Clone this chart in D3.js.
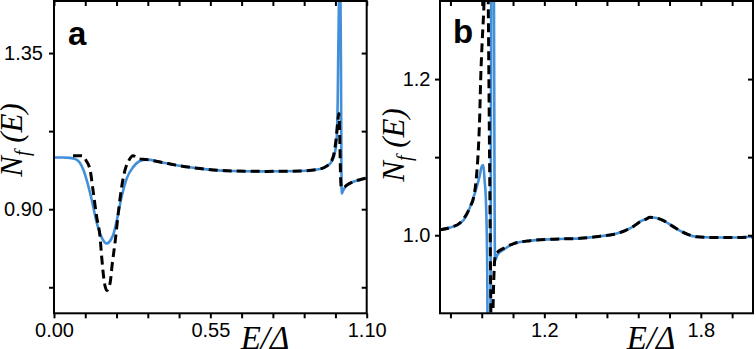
<!DOCTYPE html>
<html><head><meta charset="utf-8">
<script src="https://cdn.jsdelivr.net/npm/d3@7/dist/d3.min.js"></script>
<style>body{margin:0;background:#fff}svg{display:block}</style>
</head><body>
<svg id="c" width="756" height="349"></svg>
<script>
// ---------- DATA ----------
// Panel a
const aBlueE = [0.000,0.030,0.056,0.074,0.091,0.104,0.115,0.133,0.150,0.168,0.185,0.200,0.209,0.221,0.238,0.256,0.279,0.302,0.326,0.373,0.443,0.514,0.630,0.748,0.865,0.936,0.959,0.977,0.988,0.994,0.998,1.000,1.0025,1.005,1.0095,1.012,1.018,1.0295,1.053,1.076,1.100];
const aBlueN = [1.049,1.049,1.048,1.045,1.034,1.012,0.984,0.926,0.862,0.818,0.801,0.812,0.828,0.868,0.936,0.989,1.022,1.039,1.043,1.036,1.025,1.017,1.010,1.009,1.010,1.016,1.024,1.038,1.062,1.099,1.214,1.359,1.503,1.750,1.300,0.945,0.955,0.969,0.979,0.985,0.990];
const aDashE = [0.067,0.098,0.113,0.127,0.138,0.150,0.162,0.168,0.177,0.186,0.197,0.205,0.215,0.226,0.238,0.250,0.263,0.278,0.295,0.326,0.373,0.443,0.514,0.630,0.748,0.865,0.936,0.959,0.977,0.986,0.992,0.998,1.002,1.005,1.007,1.009,1.011,1.018,1.0295,1.053,1.076,1.100];
const aDashN = [1.054,1.054,1.040,1.013,0.950,0.878,0.820,0.760,0.690,0.666,0.686,0.743,0.806,0.888,0.964,1.013,1.040,1.054,1.046,1.043,1.036,1.025,1.017,1.010,1.009,1.010,1.016,1.024,1.040,1.065,1.100,1.150,1.176,1.120,1.030,0.975,0.962,0.962,0.969,0.979,0.985,0.990];
const aXTicks = [0,0.11,0.22,0.33,0.44,0.55,0.66,0.77,0.88,0.99,1.10];
const aXLabels = [0,0.55,1.10];
const aYTicks = [0.675,0.90,1.125,1.35];
const aYLabels = [0.90,1.35];

// Panel b
const bBlueE = [0.800,0.840,0.877,0.900,0.915,0.930,0.941,0.952,0.960,0.966,0.971,0.976,0.981,0.985,0.991,0.999,1.004,1.011,1.020,1.042,1.081,1.145,1.240,1.336,1.420,1.464,1.510,1.540,1.570,1.592,1.604,1.630,1.655,1.690,1.719,1.750,1.783,1.847,1.920,2.000];
const bBlueN = [1.007,1.010,1.015,1.024,1.036,1.050,1.062,1.076,1.088,1.090,1.070,1.045,0.960,0.700,0.700,1.500,1.500,0.968,0.975,0.981,0.989,0.993,0.995,0.996,0.999,1.001,1.006,1.011,1.018,1.021,1.023,1.022,1.019,1.012,1.006,1.001,0.998,0.997,0.997,0.998];
const bDashE = [0.800,0.840,0.877,0.915,0.930,0.941,0.947,0.952,0.956,0.962,0.969,0.976,0.981,0.985,0.990,0.995,0.997,1.000,1.005,1.011,1.020,1.042,1.081,1.145,1.240,1.336,1.420,1.464,1.510,1.540,1.570,1.592,1.604,1.630,1.655,1.690,1.719,1.750,1.783,1.847,1.920,2.000];
const bDashN = [1.007,1.010,1.016,1.036,1.050,1.080,1.110,1.150,1.200,1.250,1.300,1.400,1.450,1.300,1.100,0.900,0.820,0.850,0.930,0.972,0.978,0.983,0.989,0.993,0.995,0.996,0.999,1.001,1.006,1.011,1.018,1.021,1.023,1.022,1.019,1.012,1.006,1.001,0.998,0.997,0.997,0.998];
const bXTicks = [0.84,0.96,1.08,1.20,1.32,1.44,1.56,1.68,1.80,1.92];
const bXLabels = [1.2,1.8];
const bYTicks = [1.0,1.1,1.2];
const bYLabels = [1.0,1.2];

// ---------- DRAW ----------
const svg = d3.select("#c");
svg.append("rect").attr("width",756).attr("height",349).attr("fill","#fff");
const BLUE = "#4390da";

function panel(o){
  const x = d3.scaleLinear().domain(o.xd).range([o.x0,o.x1]);
  const y = d3.scaleLinear().domain(o.yd).range([o.y1,o.y0]);
  const g = svg.append("g");
  const cid = "clip"+o.id;
  svg.append("clipPath").attr("id",cid).append("rect")
    .attr("x",o.x0).attr("y",o.y0).attr("width",o.x1-o.x0).attr("height",o.y1-o.y0);
  const line = d3.line().x(d=>x(d[0])).y(d=>y(d[1])).curve(d3.curveMonotoneX);
  const blue = o.be.map((e,i)=>[e,o.bn[i]]);
  const dash = o.de.map((e,i)=>[e,o.dn[i]]);
  const pg = g.append("g").attr("clip-path",`url(#${cid})`);
  pg.append("path").datum(blue).attr("d",line).attr("fill","none")
    .attr("stroke",BLUE).attr("stroke-width",2.6).attr("stroke-linejoin","round");
  pg.append("path").datum(dash).attr("d",line).attr("fill","none")
    .attr("stroke","#000").attr("stroke-width",3).attr("stroke-dasharray","9,5");

  const fmtX = v => o.xl.some(l=>Math.abs(l-v)<1e-9) ? d3.format(o.xf)(v) : "";
  const fmtY = v => o.yl.some(l=>Math.abs(l-v)<1e-9) ? d3.format(o.yf)(v) : "";
  const style = sel => {
    sel.select(".domain").remove();
    sel.selectAll("line").attr("stroke","#000").attr("stroke-width",2);
    sel.selectAll("text").attr("font-family","'Liberation Sans', Arial, sans-serif")
      .attr("font-size",20).attr("fill","#000");
  };
  g.append("g").attr("transform",`translate(0,${o.y1})`)
    .call(d3.axisBottom(x).tickValues(o.xt).tickSize(5).tickPadding(5).tickFormat(fmtX)).call(style);
  g.append("g").attr("transform",`translate(0,${o.y0})`)
    .call(d3.axisBottom(x).tickValues(o.xt).tickSize(5).tickFormat("")).call(style);
  g.append("g").attr("transform",`translate(${o.x0},0)`)
    .call(d3.axisLeft(y).tickValues(o.yt).tickSize(5).tickPadding(o.yp).tickFormat(fmtY)).call(style);
  g.append("g").attr("transform",`translate(${o.x1},0)`)
    .call(d3.axisLeft(y).tickValues(o.yt).tickSize(5).tickFormat("")).call(style)
    .selectAll("line").attr("x2",-5);
  g.append("rect").attr("x",o.x0).attr("y",o.y0).attr("width",o.x1-o.x0).attr("height",o.y1-o.y0)
    .attr("fill","none").attr("stroke","#000").attr("stroke-width",2);

  // panel letter
  g.append("text").attr("x",o.lx).attr("y",o.ly).text(o.letter)
    .attr("font-family","'Liberation Sans', Arial, sans-serif").attr("font-weight","bold")
    .attr("font-size",33).attr("fill","#000");
  // y label
  const yl = g.append("text").attr("transform",`translate(${o.ylx},${o.yly}) rotate(-90)`)
    .attr("text-anchor","middle").attr("font-family","'Liberation Serif','Times New Roman',serif")
    .attr("font-style","italic").attr("font-size",31).attr("fill","#000");
  yl.append("tspan").text("N");
  yl.append("tspan").text("f").attr("font-size",20).attr("dy",7);
  yl.append("tspan").text(" (E)").attr("dy",-7);
  // x label
  g.append("text").attr("x",o.xlx).attr("y",349).attr("text-anchor","middle")
    .attr("font-family","'Liberation Serif','Times New Roman',serif").attr("font-style","italic")
    .attr("font-size",33).attr("fill","#000").text("E/\u0394");
}

panel({id:"a",xd:[0,1.1],yd:[0.6,1.5],x0:54,x1:366.7,y0:1,y1:313.3,
  be:aBlueE,bn:aBlueN,de:aDashE,dn:aDashN,xt:aXTicks,xl:aXLabels,yt:aYTicks,yl:aYLabels,
  xf:".2f",yf:".2f",yp:6,letter:"a",lx:68,ly:45,ylx:22,yly:140,xlx:265});
panel({id:"b",xd:[0.8,2.0],yd:[0.9,1.3],x0:440,x1:753,y0:1,y1:313.3,
  be:bBlueE,bn:bBlueN,de:bDashE,dn:bDashN,xt:bXTicks,xl:bXLabels,yt:bYTicks,yl:bYLabels,
  xf:".1f",yf:".1f",yp:4.5,letter:"b",lx:453,ly:43,ylx:404,yly:145,xlx:651});
</script>
</body></html>
